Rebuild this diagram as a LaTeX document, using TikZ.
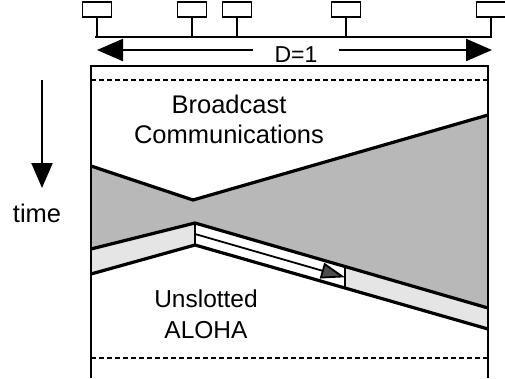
\documentclass[tikz,border=0pt]{standalone}
\usepackage{fontspec}
\setmainfont{Liberation Sans}
\usetikzlibrary{arrows.meta,positioning,calc}
\definecolor{densedots}{gray}{0.72}
\definecolor{sparsedots}{gray}{0.9}
\definecolor{tipdots}{gray}{0.3}

\begin{document}
\begin{tikzpicture}[
 x=1pt,y=-1pt,>=Latex,
 station/.style={draw,line width=1.7pt,minimum width=29pt,minimum height=15pt,inner sep=0pt},
 bigtext/.style={font=\fontsize{25.5}{30}\selectfont,align=center,inner sep=0pt},
 edge/.style={line width=3.2pt,line join=round},
 rule/.style={line width=1.9pt},
 dashrule/.style={line width=2pt,dash pattern=on 5pt off 3pt},
 span/.style={line width=2.2pt,-{Triangle[length=26pt,width=22pt]}},
 signal/.style={line width=1.8pt,-{Triangle[length=24pt,width=16pt,fill=tipdots]}}
]
\useasboundingbox (0,0) rectangle (505,378);
% corner points of the two regions
\coordinate (topL) at (91,166);
\coordinate (topM) at (193,200);
\coordinate (topR) at (488,115);
\coordinate (bandL) at (91,249);
\coordinate (bandM) at (195,223);
\coordinate (bandR) at (488,308);
\coordinate (lowL) at (91,274);
\coordinate (lowM) at (195,245);
\coordinate (lowR) at (488,329);
\coordinate (cutT) at ($(bandM)!0.512!(bandR)$);
\coordinate (cutB) at ($(lowM)!0.512!(lowR)$);
% shading
\fill[densedots] (topL) -- (topM) -- (topR) -- (bandR) -- (bandM) -- (bandL) -- cycle;
\fill[sparsedots] (bandL) -- (bandM) -- (lowM) -- (lowL) -- cycle;
\fill[sparsedots] (cutT) -- (bandR) -- (lowR) -- (cutB) -- cycle;
% frame
\draw[rule] (91,378) -- (91,66) -- (488,66) -- (488,378);
\draw[dashrule] (91,80) -- (488,80);
\draw[dashrule] (91,358) -- (488,358);
% boundaries
\draw[edge] (topL) -- (topM) -- (topR);
\draw[edge] (bandL) -- (bandM) -- (bandR);
\draw[edge] (lowL) -- (lowM) -- (lowR);
\draw[rule] (bandM) -- (lowM);
\draw[rule] (cutT) -- (cutB);
\draw[signal] ($(bandM)!0.5!(lowM)$) -- ($(cutT)!0.5!(cutB)$);
% stations on the bus
\coordinate (busL) at (95,37);
\coordinate (busR) at (492,37);
\draw[rule] (busL) -- (busR);
\foreach \x/\n in {97/a,192/b,237/c,346/d,491/e}{
 \node[station] (st\n) at (\x,9.5) {};
 \draw[rule] (st\n.south) -- (st\n.south |- busL);
}
% distance
\node[font=\fontsize{23}{26}\selectfont,inner xsep=21pt,inner ysep=0pt] (dist) at (296,55) {D=1};
\coordinate (spanL) at (97,50);
\coordinate (spanR) at (492,50);
\draw[span] (dist.west |- spanL) -- (spanL);
\draw[span] (dist.east |- spanR) -- (spanR);
% labels
\node[bigtext] (bcast) at (229,119) {Broadcast\\Communications};
\node[bigtext,font=\fontsize{24.5}{31}\selectfont] (aloha) at (206,314) {Unslotted\\ALOHA};
\node[bigtext] (time) at (37,213) {time};
\coordinate (tstart) at (42,80);
\coordinate (tend) at (42,188);
\draw[span,-{Triangle[length=25pt,width=21pt]}] (tstart) -- (tend);
\end{tikzpicture}
\end{document}
